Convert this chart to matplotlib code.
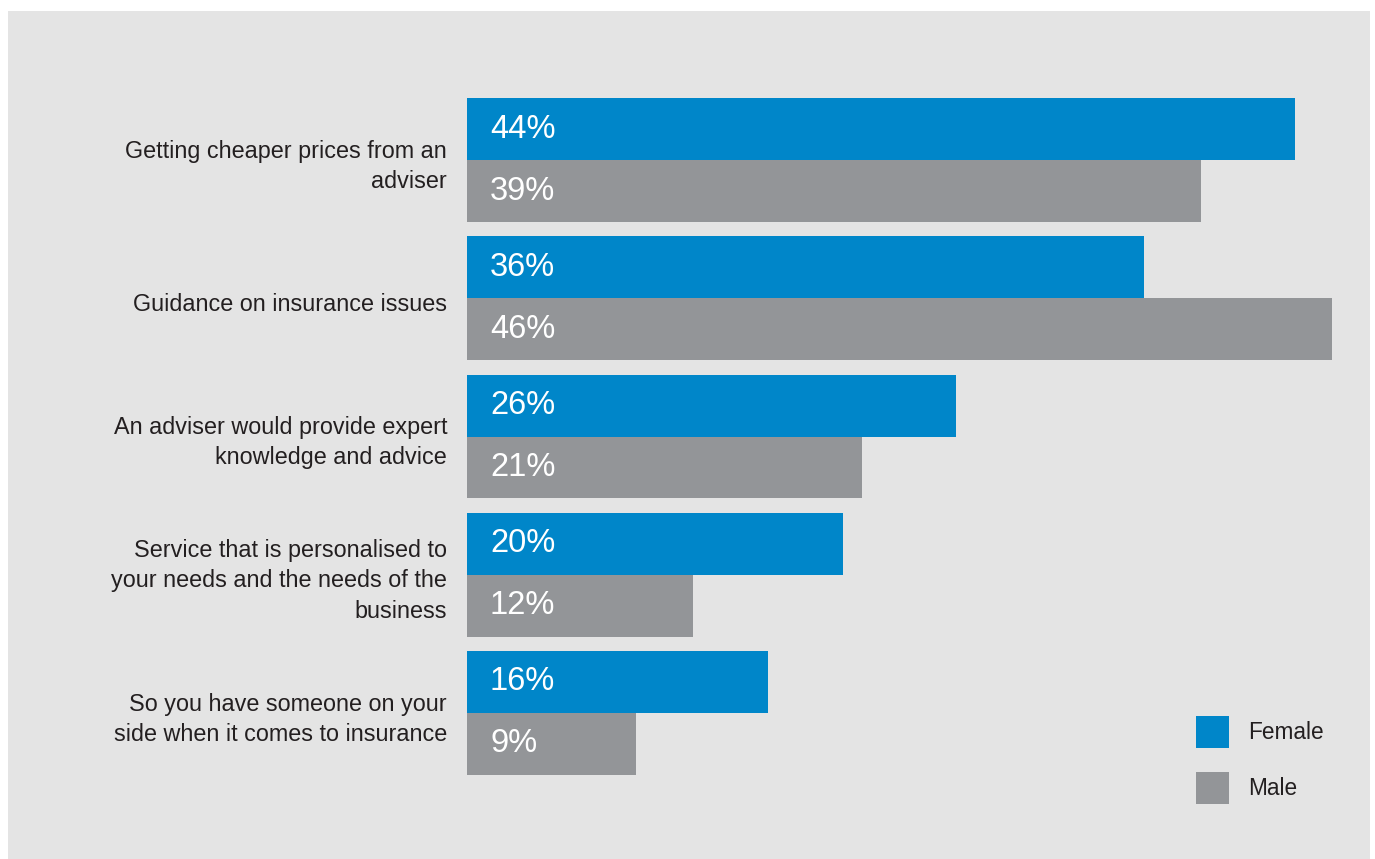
import matplotlib
matplotlib.use("Agg")
import matplotlib.pyplot as plt
from matplotlib.patches import Rectangle, Patch

categories = [
    "Getting cheaper prices from an\nadviser",
    "Guidance on insurance issues",
    "An adviser would provide expert\nknowledge and advice",
    "Service that is personalised to\nyour needs and the needs of the\nbusiness",
    "So you have someone on your\nside when it comes to insurance",
]
female = [44, 36, 26, 20, 16]
male = [39, 46, 21, 12, 9]
series_names = ["Female", "Male"]

BLUE = "#0086c9"
GREY = "#939598"
PANEL = "#e4e4e4"
TEXT = "#231f20"

plt.rcParams["font.family"] = ["Liberation Sans", "DejaVu Sans"]

W, H, DPI = 1375, 859, 100
fig = plt.figure(figsize=(W / DPI, H / DPI), dpi=DPI, facecolor="white")

# grey panel behind everything
fig.patches.append(Rectangle((8 / W, 0), (1370 - 8) / W, (859 - 11) / H,
                             transform=fig.transFigure, facecolor=PANEL,
                             edgecolor="none", zorder=-10))

# bar area: x from 467px to 1370px, y rows centred on group positions
ax_top, ax_bot = 91, 782
ax = fig.add_axes([467 / W, 1 - ax_bot / H, (1370 - 467) / W, (ax_bot - ax_top) / H])
ax.set_facecolor("none")

n = len(categories)
bh = 0.448
ys = list(range(n))
yf = [y - bh / 2 for y in ys]
ym = [y + bh / 2 for y in ys]
ax.barh(yf, female, height=bh, color=BLUE, linewidth=0)
ax.barh(ym, male, height=bh, color=GREY, linewidth=0)

ax.set_xlim(0, 48)
ax.set_ylim(n - 0.5, -0.5)
ax.axis("off")

for y, v in list(zip(yf, female)) + list(zip(ym, male)):
    ax.annotate(f"{v}%", xy=(0, y), xytext=(23 * 0.72, 0),
                textcoords="offset points", ha="left", va="center",
                color="white", fontsize=23.5)

for y, label in zip(ys, categories):
    ax.annotate(label, xy=(0, y + 0.045), xytext=(-20 * 0.72, 0),
                textcoords="offset points", ha="right", va="center",
                color=TEXT, fontsize=16.8, linespacing=1.4)

handles = [Patch(facecolor=BLUE, edgecolor="none"),
           Patch(facecolor=GREY, edgecolor="none")]
fig.legend(handles, series_names, loc="upper left",
           bbox_to_anchor=(1196 / W, 1 - 716 / H), frameon=False,
           fontsize=16.3, handlelength=1.45, handleheight=1.79,
           handletextpad=0.87, labelspacing=1.05, borderpad=0,
           borderaxespad=0, labelcolor=TEXT)

fig.savefig("out.png", dpi=DPI, facecolor="white")
